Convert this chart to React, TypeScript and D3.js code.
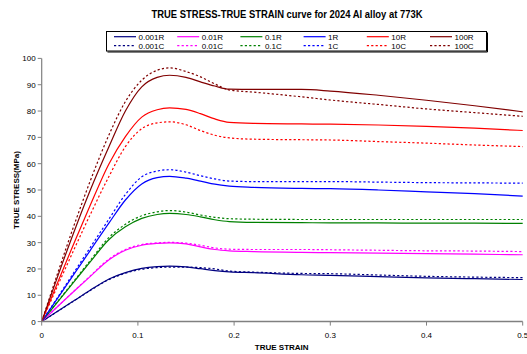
import React from "react";
import * as d3 from "d3";

const strains = [0, 0.035, 0.05, 0.07, 0.087, 0.104, 0.12, 0.133, 0.15, 0.165, 0.18, 0.195, 0.22, 0.27, 0.3, 0.35, 0.4, 0.45, 0.5];

const s0001R = [0, 8.3, 11.8, 16.2, 18.6, 20.2, 20.9, 21.1, 20.8, 20.1, 19.4, 18.9, 18.6, 17.8, 17.6, 17.1, 16.6, 16.3, 16.0];
const s0001C = [0, 8.2, 11.7, 16.0, 18.4, 19.9, 20.5, 20.7, 20.7, 20.5, 20.0, 19.2, 18.8, 18.3, 18.2, 17.7, 17.2, 16.9, 16.7];
const s001R = [0, 12.0, 17.0, 23.5, 27.1, 29.0, 29.7, 29.9, 29.5, 28.4, 27.4, 26.9, 26.6, 26.3, 26.2, 26.0, 25.8, 25.6, 25.4];
const s001C = [0, 12.1, 17.2, 23.8, 27.4, 29.3, 29.9, 30.1, 29.8, 29.0, 28.0, 27.5, 27.4, 27.4, 27.3, 27.1, 26.9, 26.8, 26.6];
const s01R = [0, 15.8, 22.5, 31.2, 36.0, 39.2, 40.7, 41.1, 40.7, 39.8, 38.7, 38.0, 37.7, 37.6, 37.5, 37.5, 37.4, 37.4, 37.3];
const s01C = [0, 16.1, 23.0, 32.0, 37.0, 40.2, 41.7, 42.2, 41.6, 40.5, 39.6, 39.1, 38.9, 38.8, 38.8, 38.8, 38.8, 38.8, 38.8];
const s1R = [0, 18.8, 26.8, 37.5, 46.2, 52.3, 54.7, 55.2, 54.5, 53.4, 52.2, 51.5, 51.0, 50.6, 50.5, 50.0, 49.3, 48.6, 47.7];
const s1C = [0, 19.5, 27.9, 39.0, 48.3, 55.0, 57.2, 57.7, 56.8, 55.4, 54.2, 53.4, 53.2, 53.2, 53.2, 53.0, 52.8, 52.7, 52.6];
const s10R = [0, 31.0, 43.8, 60.0, 70.3, 77.7, 80.5, 81.2, 80.6, 79.0, 77.0, 75.7, 75.3, 75.1, 75.0, 74.7, 74.2, 73.5, 72.6];
const s10C = [0, 28.5, 40.3, 55.2, 66.5, 73.3, 75.5, 75.9, 74.8, 72.6, 70.8, 69.8, 69.3, 69.1, 69.0, 68.4, 67.8, 67.1, 66.5];
const s100R = [0, 35.5, 49.5, 66.5, 80.0, 89.2, 92.8, 93.6, 92.8, 91.1, 89.5, 88.3, 88.2, 88.2, 87.6, 86.0, 84.1, 82.0, 79.7];
const s100C = [0, 38.0, 53.0, 71.0, 83.6, 91.7, 95.5, 96.4, 95.0, 93.0, 90.3, 88.0, 87.2, 85.4, 84.2, 82.5, 80.8, 79.4, 78.0];

const seriesNames = ["0.001R", "0.01R", "0.1R", "1R", "10R", "100R", "0.001C", "0.01C", "0.1C", "1C", "10C", "100C"];
const seriesValues = [s0001R, s001R, s01R, s1R, s10R, s100R, s0001C, s001C, s01C, s1C, s10C, s100C];
const colors = ["#000080", "#FF00FF", "#008000", "#0000FF", "#FF0000", "#800000"];

const xTicks = [0, 0.1, 0.2, 0.3, 0.4, 0.5];
const yTicks = [0, 10, 20, 30, 40, 50, 60, 70, 80, 90, 100];

const FONT = "Arial, 'Liberation Sans', sans-serif";

export default function App() {
  const x = d3.scaleLinear().domain([0, 0.5]).range([41.7, 522.7]);
  const y = d3.scaleLinear().domain([0, 100]).range([321.6, 58.4]);
  const line = d3
    .line<number>()
    .x((_, i) => x(strains[i]))
    .y((d) => y(d))
    .curve(d3.curveMonotoneX);

  const legendX0 = 114;
  const legendDx = 63.2;
  const legendRows = [36.7, 45.7];

  return (
    <svg width={527} height={354} style={{ position: "absolute", left: 0, top: 0, background: "#fff" }} fontFamily={FONT}>
      <rect x={0} y={0} width={527} height={354} fill="#fff" />
      <text x={287} y={17.5} textAnchor="middle" fontSize={10} fontWeight="bold" textLength={271} lengthAdjust="spacingAndGlyphs">
        TRUE STRESS-TRUE STRAIN curve for 2024 Al alloy at 773K
      </text>

      {/* legend */}
      <rect x={106.5} y={31.5} width={380} height={19.5} fill="#fff" stroke="#000" strokeWidth={1} />
      <line x1={107.5} y1={52} x2={487.5} y2={52} stroke="#000" strokeWidth={1} />
      <line x1={487.5} y1={32.5} x2={487.5} y2={52} stroke="#000" strokeWidth={1} />
      {seriesNames.map((name, i) => {
        const col = i % 6;
        const row = Math.floor(i / 6);
        const lx = legendX0 + col * legendDx;
        const ly = legendRows[row];
        return (
          <g key={name}>
            <line
              x1={lx}
              x2={lx + 22}
              y1={ly}
              y2={ly}
              stroke={colors[col]}
              strokeWidth={1.2}
              strokeDasharray={row === 1 ? "2.2,2.2" : undefined}
            />
            <text x={lx + 24.5} y={ly + 3} fontSize={8} fill="#000">
              {name}
            </text>
          </g>
        );
      })}

      {/* series */}
      {seriesValues.map((vals, i) => (
        <path
          key={seriesNames[i]}
          d={line(vals) || ""}
          fill="none"
          stroke={colors[i % 6]}
          strokeWidth={1.2}
          strokeDasharray={i >= 6 ? "2.2,2.2" : undefined}
        />
      ))}

      {/* axes */}
      <line x1={x(0)} x2={x(0)} y1={y(100)} y2={y(0)} stroke="#808080" strokeWidth={1.2} />
      <line x1={x(0)} x2={x(0.5)} y1={y(0)} y2={y(0)} stroke="#808080" strokeWidth={1.5} />
      {yTicks.map((t) => (
        <g key={"y" + t}>
          <line x1={x(0) - 4} x2={x(0)} y1={y(t)} y2={y(t)} stroke="#808080" strokeWidth={1} />
          <text x={x(0) - 6} y={y(t) + 3} textAnchor="end" fontSize={8} fill="#000">
            {t}
          </text>
        </g>
      ))}
      {xTicks.map((t) => (
        <g key={"x" + t}>
          <line x1={x(t)} x2={x(t)} y1={y(0)} y2={y(0) + 4} stroke="#808080" strokeWidth={1} />
          <text x={x(t)} y={338} textAnchor="middle" fontSize={8} fill="#000">
            {t}
          </text>
        </g>
      ))}
      <text x={281.7} y={349.5} textAnchor="middle" fontSize={8} fontWeight="bold">
        TRUE STRAIN
      </text>
      <text
        transform={`translate(18.5,190) rotate(-90)`}
        textAnchor="middle"
        fontSize={8}
        fontWeight="bold"
      >
        TRUE STRESS(MPa)
      </text>
    </svg>
  );
}
